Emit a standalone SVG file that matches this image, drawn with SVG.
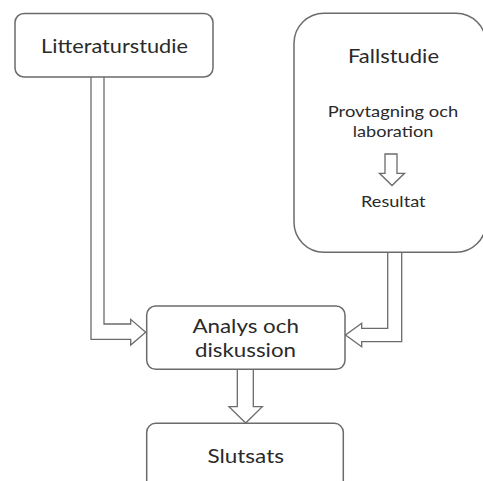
<svg xmlns="http://www.w3.org/2000/svg" width="483" height="481" viewBox="0 0 483 481">
<style>
.box{fill:#fff;stroke:#6b6b6b;stroke-width:1.5}
.arr{fill:#fff;stroke:#6b6b6b;stroke-width:1.3;stroke-linejoin:miter}
.t{font-family:Lato,"Open Sans","Liberation Sans",sans-serif;fill:#2a2a2a;text-anchor:middle}
.big{font-size:19px}
.small{font-size:15px}
</style>
<rect width="483" height="481" fill="#fff"/>
<g id="connectors">
<path class="arr" d="M91,77 V339.3 H130.7 V345 L145.7,332.2 L130.7,319.3 V324 H104 V77"/>
<path class="arr" d="M401.7,252.7 V341.7 H361.7 V346.7 L345.5,335 L361.7,323.3 V328.3 H387.7 V252.7"/>
<path class="arr" d="M237.3,369.3 V406.7 H229 L245.7,423 L262.3,406.7 H253.3 V369.3"/>
</g>
<g id="litteraturstudie">
<rect class="box" x="15" y="13.5" width="198" height="63.5" rx="9"/>
<text class="t big" x="114.5" y="53.3" textLength="147" lengthAdjust="spacingAndGlyphs">Litteraturstudie</text>
</g>
<g id="fallstudie">
<rect class="box" x="294" y="13.3" width="192" height="239" rx="30"/>
<text class="t big" x="393.5" y="63.3" textLength="91" lengthAdjust="spacingAndGlyphs">Fallstudie</text>
<text class="t small" x="393" y="117.3" textLength="130.5" lengthAdjust="spacingAndGlyphs">Provtagning och</text>
<text class="t small" x="393" y="137.3" textLength="80.5" lengthAdjust="spacingAndGlyphs">laboration</text>
<path class="arr" d="M385,154 V173.3 H379.5 L392,185.5 L404.5,173.3 H397 V154 Z"/>
<text class="t small" x="393.3" y="207.3" textLength="64.5" lengthAdjust="spacingAndGlyphs">Resultat</text>
</g>
<g id="analys">
<rect class="box" x="146.7" y="306" width="198.3" height="63.3" rx="9"/>
<text class="t big" x="245.7" y="332.7" textLength="106.5" lengthAdjust="spacingAndGlyphs">Analys och</text>
<text class="t big" x="245.5" y="357.3" textLength="101" lengthAdjust="spacingAndGlyphs">diskussion</text>
</g>
<g id="slutsats">
<rect class="box" x="146.7" y="423.3" width="196.6" height="80" rx="9"/>
<text class="t big" x="245.7" y="462.7" textLength="76.5" lengthAdjust="spacingAndGlyphs">Slutsats</text>
</g>
</svg>
